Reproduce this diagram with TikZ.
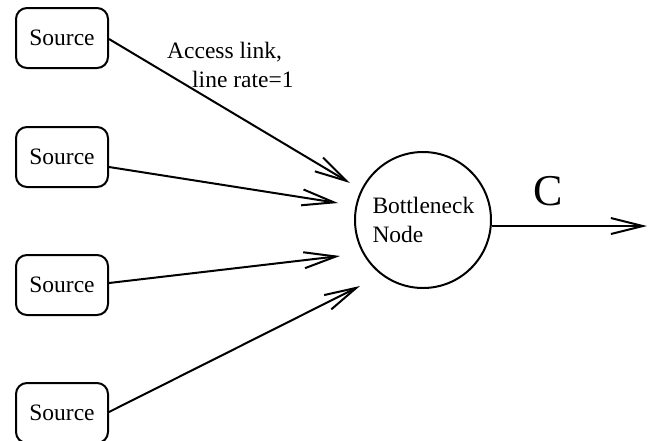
\documentclass[tikz,border=0pt]{standalone}
\usepackage{fontspec}
\setmainfont{Liberation Serif}
\usetikzlibrary{arrows.meta}
\tikzset{
  srcbox/.style={draw, line width=2pt, rounded corners=11pt,
    minimum width=92pt, minimum height=60pt, inner sep=0pt,
    font=\fontsize{23.5}{29}\selectfont},
  hub/.style={draw, circle, line width=2pt, minimum size=136pt, inner sep=0pt,
    align=left, font=\fontsize{23.5}{29}\selectfont},
  link/.style={line width=2pt, -{Straight Barb[length=32pt, width=16pt, line width=2pt]}},
  lbl/.style={font=\fontsize{23.5}{29}\selectfont, inner sep=0pt}
}
\begin{document}
\begin{tikzpicture}[x=1pt, y=-1pt]
  \useasboundingbox (0,0) rectangle (648,440);
  \clip (0,0) rectangle (648,440);

  % sources
  \node[srcbox] (s1) at (62,38) {Source};
  \node[srcbox] (s2) at (62,157) {Source};
  \node[srcbox] (s3) at (62,285) {Source};
  \node[srcbox] (s4) at (62,413) {Source};

  % bottleneck
  \node[hub] (bn) at (423,220) {\raisebox{-3pt}{\parbox{101pt}{Bottleneck\\Node}}};

  % arrow tips, just short of the node
  \coordinate (t1) at (350,183);
  \coordinate (t2) at (338,203);
  \coordinate (t3) at (340,256);
  \coordinate (t4) at (360,286);
  \coordinate (out) at (647,226);

  \draw[link] (s1.east) ++(0,1) -- (t1);
  \draw[link] (s2.east) ++(0,10) -- (t2);
  \draw[link] (s3.east) ++(0,-2) -- (t3);
  \draw[link] (s4.east) ++(0,-1) -- (t4);
  \draw[link] (bn.east |- out) -- (out);

  % labels
  \node[lbl, anchor=base west] (al1) at (167,58) {Access link,};
  \node[lbl, anchor=base west] (al2) at (192,87) {line rate=1};
  \node[font=\fontsize{44}{50}\selectfont, inner sep=0pt, anchor=base] (cap) at (548,205) {C};
\end{tikzpicture}
\end{document}
